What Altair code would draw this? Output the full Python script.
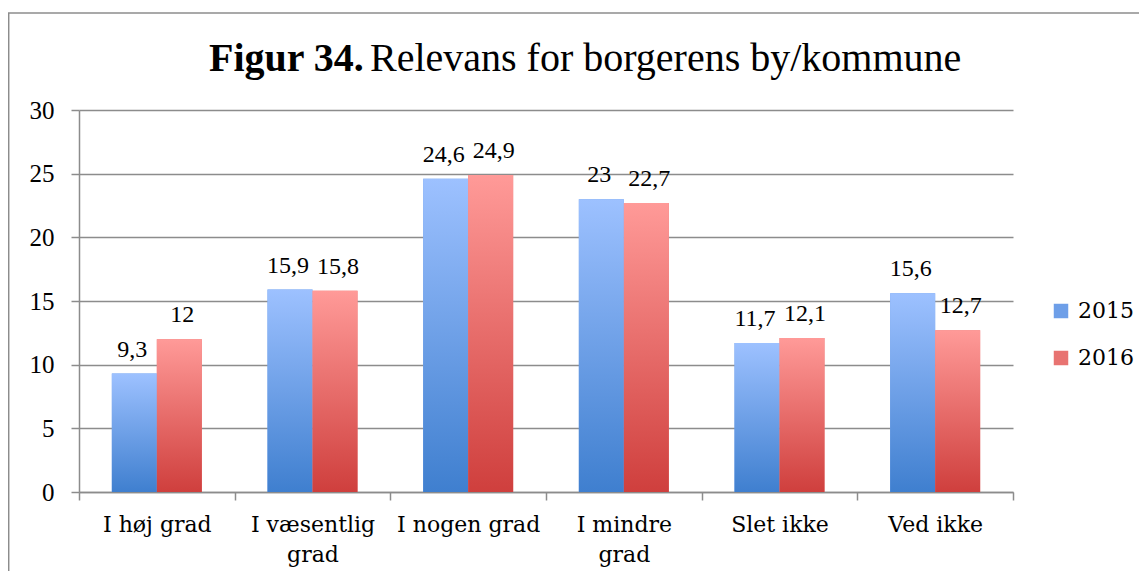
import altair as alt
import pandas as pd

categories = ["I høj grad", "I væsentlig grad", "I nogen grad", "I mindre grad", "Slet ikke", "Ved ikke"]
years = ["2015", "2016"]
values_2015 = [9.3, 15.9, 24.6, 23, 11.7, 15.6]
values_2016 = [12, 15.8, 24.9, 22.7, 12.1, 12.7]
y_ticks = [0, 5, 10, 15, 20, 25, 30]
title_bold = "Figur 34."
title_rest = "Relevans for borgerens by/kommune"

rows = []
for cat, a, b in zip(categories, values_2015, values_2016):
    rows.append({"kategori": cat, "aar": "2015", "verdi": a})
    rows.append({"kategori": cat, "aar": "2016", "verdi": b})
df = pd.DataFrame(rows)
df["etiket"] = df["verdi"].map(lambda v: f"{v:g}".replace(".", ","))

GRID = "#8c8c8c"
LABEL_FONT = "DejaVu Serif"
NUM_FONT = "Liberation Serif"
TITLE_FONT = "Liberation Serif"

blue_grad = alt.LinearGradient(
    gradient="linear",
    stops=[alt.GradientStop(color="#9DC1FF", offset=0), alt.GradientStop(color="#3F7FCF", offset=1)],
    x1=0, x2=0, y1=0, y2=1,
)
red_grad = alt.LinearGradient(
    gradient="linear",
    stops=[alt.GradientStop(color="#FF9A98", offset=0), alt.GradientStop(color="#CF3F3D", offset=1)],
    x1=0, x2=0, y1=0, y2=1,
)

x_enc = alt.X(
    "kategori:N",
    sort=categories,
    scale=alt.Scale(paddingInner=0, paddingOuter=0),
    axis=alt.Axis(
        title=None,
        labelAngle=0,
        tickBand="extent",
        tickSize=8,
        labelPadding=14,
        labelBaseline="top",
        labelLineHeight=30,
        labelFont=LABEL_FONT,
        labelFontSize=22,
        labelExpr="datum.label == 'I væsentlig grad' ? ['I væsentlig', 'grad'] : datum.label == 'I mindre grad' ? ['I mindre', 'grad'] : datum.label",
        grid=False,
    ),
)
xo_enc = alt.XOffset("aar:N", scale=alt.Scale(domain=years, paddingInner=0, paddingOuter=0.73))
y_enc = alt.Y(
    "verdi:Q",
    scale=alt.Scale(domain=[0, 30], nice=False),
    axis=alt.Axis(
        title=None, values=y_ticks, grid=True, tickSize=8, labelPadding=17,
        labelFont=NUM_FONT, labelFontSize=25,
    ),
)

base = alt.Chart(df).encode(x=x_enc, xOffset=xo_enc, y=y_enc)

legend_bars = base.mark_bar().encode(
    color=alt.Color(
        "aar:N",
        scale=alt.Scale(domain=years, range=["#6E9FE8", "#E87371"]),
        legend=alt.Legend(
            title=None,
            orient="none",
            legendX=971,
            legendY=190,
            symbolType="square",
            symbolSize=210,
            symbolStrokeWidth=0,
            labelFont=LABEL_FONT,
            labelFontSize=22,
            labelColor="black",
            rowPadding=25,
            labelOffset=6,
            padding=0,
        ),
    )
)
bars15 = base.transform_filter("datum.aar == '2015'").mark_bar(fill=blue_grad)
bars16 = base.transform_filter("datum.aar == '2016'").mark_bar(fill=red_grad)
labels15 = base.transform_filter("datum.aar == '2015'").mark_text(
    font=NUM_FONT, fontSize=24, color="black", baseline="alphabetic", dy=-17, dx=-2
).encode(text="etiket:N")
labels16 = base.transform_filter("datum.aar == '2016'").mark_text(
    font=NUM_FONT, fontSize=24, color="black", baseline="alphabetic", dy=-17, dx=3
).encode(text="etiket:N")

one = pd.DataFrame({"k": [0]})
frame_left = alt.Chart(one).mark_rule(color=GRID, strokeWidth=1.5).encode(
    x=alt.value(-70.3), y=alt.value(-97), y2=alt.value(480)
)
frame_top = alt.Chart(one).mark_rule(color=GRID, strokeWidth=1.5).encode(
    x=alt.value(-71), x2=alt.value(1060), y=alt.value(-97)
)
t1 = alt.Chart(pd.DataFrame({"t": [title_bold]})).mark_text(
    font=TITLE_FONT, fontSize=40, fontWeight="bold", align="left", baseline="alphabetic", color="black"
).encode(x=alt.value(130), y=alt.value(-39), text="t:N")
t2 = alt.Chart(pd.DataFrame({"t": [title_rest]})).mark_text(
    font=TITLE_FONT, fontSize=40, align="left", baseline="alphabetic", color="black"
).encode(x=alt.value(291), y=alt.value(-39), text="t:N")

chart = (
    alt.layer(frame_left, frame_top, legend_bars, bars15, bars16, labels15, labels16, t1, t2)
    .properties(
        width=934,
        height=382,
        padding={"left": 71, "top": 102, "right": 126, "bottom": 79},
        autosize=alt.AutoSizeParams(type="none"),
        background="white",
    )
    .configure_view(stroke=None)
    .configure_axis(
        domainColor=GRID,
        domainWidth=1.5,
        tickColor=GRID,
        tickWidth=1.5,
        gridColor=GRID,
        gridWidth=1.3,
        labelColor="black",
    )
)

chart.save("out.html", embed_options={"renderer": "svg", "actions": False})
